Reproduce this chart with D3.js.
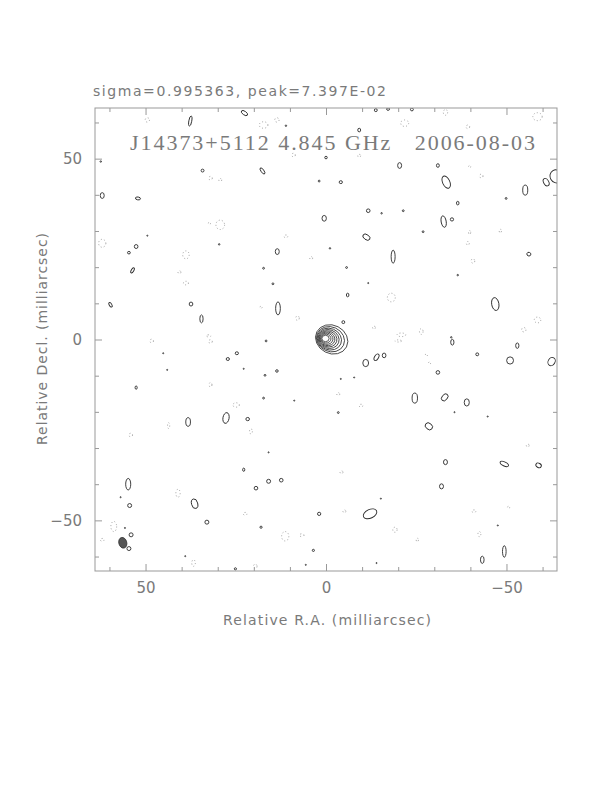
<!DOCTYPE html>
<html>
<head>
<meta charset="utf-8">
<script src="https://cdn.jsdelivr.net/npm/d3@7"></script>
<style>
  body { margin: 0; background: #fff; }
</style>
</head>
<body>
<div id="map"></div>
<script>
// header and labels
var titleText = "sigma=0.995363, peak=7.397E-02";
var mapLabel = "J14373+5112 4.845 GHz   2006-08-03";
var xTitle = "Relative R.A. (milliarcsec)";
var yTitle = "Relative Decl. (milliarcsec)";
var majorTicks = [50, 0, -50];
var minorTicks = [60, 40, 30, 20, 10, -10, -20, -30, -40, -60];

// central source contours: [ra, dec, rx, ry, angle] in mas
var coreLevels = [
    [0.14, 0.28, 1.0, 0.88, 0],
    [0.0, 0.25, 1.38, 1.22, 5],
    [-0.17, 0.22, 1.77, 1.55, 10],
    [-0.33, 0.19, 2.15, 1.88, 14],
    [-0.52, 0.17, 2.54, 2.21, 18],
    [-0.72, 0.14, 2.96, 2.57, 21],
    [-0.94, 0.11, 3.43, 2.96, 23],
    [-1.24, 0.08, 3.98, 3.40, 25],
    [-1.57, 0.03, 4.61, 3.92, 27]
];

// positive noise contours: [ra, dec, rx, ry, angle]
var posBlobs = [
    [37.6,60.4,.4,1.4,10],[22.6,62.6,1.0,.5,35],[-13.8,63.4,.4,.4,0],[-17.2,63.7,.4,.35,0],
    [-23.8,63.6,.4,.4,0],[-9.2,57.9,.4,.5,0],[0,50.3,.35,.35,0],[34.2,46.7,.4,.4,0],
    [17.6,46.6,1.0,.4,55],[1.9,43.8,.25,.25,0],[62.0,39.8,.55,.8,0],[52.1,39.0,.7,.4,10],
    [.5,33.5,.6,.8,0],[52.6,25.7,.5,.55,0],[54.6,24.0,.4,.35,0],[53.6,19.1,.35,.8,30],
    [17.3,19.7,.25,.25,0],[14.7,15.4,.25,.25,0],[13.5,24.3,.55,.8,0],[59.7,9.6,.35,.7,-30],
    [37.4,9.8,.5,.55,0],[13.3,8.6,.65,1.8,0],[34.5,5.7,.45,1.1,0],[-20.4,48.1,.55,.8,0],
    [-31.0,48.1,.4,.5,0],[-33.3,43.5,1.0,1.8,-25],[-4.1,43.5,.45,.4,0],[-63.8,45.1,1.7,1.85,-30],
    [-61.0,43.5,.7,1.1,-30],[-55.2,41.3,.7,1.4,0],[-49.9,39.0,.25,.25,0],[-36.5,37.7,.35,.5,0],
    [-11.7,35.6,.5,.5,0],[-15.4,34.9,.2,.2,0],[-21.4,35.6,.25,.25,0],[-32.6,32.6,.7,1.6,-10],
    [-34.9,33.2,.45,.45,0],[-26.9,29.8,.25,.25,0],[-11.2,28.3,1.1,.7,35],[-1.1,25.2,.2,.2,0],
    [-18.6,22.9,.55,1.8,0],[-56.2,23.6,.55,.5,20],[-5.7,19.9,.25,.25,0],[-36.5,17.8,.2,.2,0],
    [-11.7,15.6,.15,.15,0],[-6.0,12.3,.35,.5,0],[-46.9,9.8,1.0,1.8,-10],[-4.8,4.8,.4,.4,0],
    [-34.7,.6,.2,.2,0],[16.6,-.4,.25,.25,0],[24.7,-3.8,.45,.4,0],[27.2,-5.4,.45,.4,0],
    [13.6,-8.7,.35,.35,0],[16.9,-9.9,.25,.25,0],[52.6,-13.3,.3,.45,0],[17.3,-16.2,.25,.25,0],
    [27.7,-21.7,.85,1.5,10],[38.2,-22.8,.65,1.2,0],[21.7,-22.0,.5,.45,0],[22.8,-36.0,.3,.45,0],
    [54.8,-40.0,.7,1.6,0],[15.9,-39.2,.55,.55,0],[12.4,-38.9,.5,.5,0],[19.4,-41.1,.5,.5,0],
    [36.4,-45.4,.85,1.35,-15],[54.4,-45.9,.55,.55,0],[33.0,-50.5,.55,.55,0],[1.9,-48.2,.45,.45,0],
    [18.0,-51.9,.3,.3,0],[55.7,-52.1,.15,.15,0],[54.0,-54.0,.55,.55,0],[54.6,-57.8,.55,.55,0],
    [3.5,-58.3,.3,.3,0],[25.1,-63.4,.3,.3,0],[56.9,-43.6,.15,.15,0],[22.8,-8.1,.15,.15,0],
    [45.1,-3.8,.15,.15,0],[44.0,-8.4,.15,.15,0],[8.8,-16.9,.15,.15,0],[15.9,-31.2,.15,.15,0],
    [5.6,-62.3,.15,.15,0],[39,-59.9,.15,.15,0],[-35.0,-.75,.45,.8,0],[-53.0,-1.7,.45,.75,0],
    [-14.0,-4.9,.55,1.0,30],[-16.1,-4.4,.5,.65,0],[-11.0,-6.5,.8,1.0,0],[-41.9,-4.1,.4,.4,0],
    [-51.0,-5.8,.95,1.0,0],[-62.5,-6.1,.95,1.2,30],[-31.0,-9.1,.5,.5,0],[-4.1,-10.9,.15,.15,0],
    [-7.8,-10.5,.15,.15,0],[-24.6,-16.2,.75,1.4,0],[-32.9,-16.0,.75,1.1,40],[-39.0,-17.4,.7,1.0,0],
    [-3.4,-20.2,.25,.25,0],[-35.6,-20.1,.15,.15,0],[-44.8,-21.3,.15,.15,0],[-28.5,-24.0,1.1,.85,40],
    [-33.1,-33.9,.55,.7,0],[-49.4,-34.4,1.25,.55,25],[-58.9,-34.8,.8,.6,30],[-32.0,-40.6,.55,.7,0],
    [-15.2,-44.0,.15,.15,0],[-12.2,-48.2,2.0,1.2,-25],[-47.6,-51.4,.15,.15,0],[-49.4,-58.6,.5,1.6,0],
    [-43.3,-60.9,.5,1.0,0],[-14.0,-61.8,.15,.15,0],[62.4,49.2,.2,.2,0],[11.1,59.1,.2,.2,0],
    [49.5,28.7,.15,.15,0],[29.6,26.3,.2,.2,0]
];

// negative contours (dotted): [ra, dec, rx, ry]
var negBlobs = [
    [49.5,60.7,.6,.6],[17.3,59.3,1.2,.9],[13.6,60.7,.6,.6],[9.0,51.0,.5,.5],
    [32.0,44.6,.5,.5],[29.3,44.1,.4,.4],[29.3,31.7,1.2,1.3],[32.3,32.1,.3,.3],
    [62.0,26.6,1.0,1.1],[11.1,28.5,.5,.4],[38.8,23.4,.9,1.1],[4.1,22.5,.4,.4],
    [40.6,18.6,.4,.4],[38.8,15.6,.7,.5],[18.0,8.9,.3,.3],[7.9,5.9,.5,.6],
    [32.5,1.0,.6,.3],[-33.1,62.8,.6,.8],[-21.8,59.8,1.1,.9],[-39.3,58.8,.5,.5],
    [-58.6,61.6,1.3,1.1],[-9.2,50.8,.4,.4],[-39.8,47.8,.3,.3],[-43.0,45.2,.5,.5],
    [-39.8,29.6,.3,.5],[-39.3,26.6,.4,.5],[-40.7,21.7,.5,.6],[-48.3,30.0,.3,.5],
    [-18.1,11.6,1.1,1.2],[-58.6,5.4,.9,.8],[-13.3,3.3,.4,.4],[-26.4,2.2,.5,.8],
    [-54.8,2.7,.6,.6],[-20.9,1.3,1.2,.5],[48.3,-.4,.5,.5],[32.0,-.55,.5,.5],
    [32.0,-12.5,.4,.6],[24.9,-18.1,.9,.6],[43.6,-23.8,.3,.8],[20.8,-25.4,.4,.7],
    [54.1,-26.4,.5,.5],[41.0,-42.5,.6,1.1],[22.4,-48.2,.5,.4],[58.8,-51.7,.8,1.4],
    [11.3,-54.4,1.0,1.3],[6.7,-54.1,.6,.4],[62.0,-55.4,.5,.4],[36.7,-61.8,.5,.9],
    [19.6,-62.7,.5,.6],[-20.0,-.4,.9,.3],[-27.8,-4.3,.3,.3],[-28.7,-6.5,.3,.3],
    [-3.4,-15.1,.4,.4],[-9.7,-18.3,.5,.4],[-55.9,-29.3,.4,.4],[-4.3,-36.7,.4,.4],
    [-5.1,-47.5,.4,.4],[-41.0,-47.5,.5,.4],[-50.6,-46.4,.3,.3],[-19.1,-52.6,.6,.7],
    [-42.5,-53.8,.4,.7],[-25.3,-55.4,.3,.5]
];

// restoring beam: [ra, dec, rx, ry, angle]
var beam = [56.3, -56.2, 1.1, 1.5, -15];

var svgWidth = 612;
var svgHeight = 792;
var margin = { top: 108, left: 95 };
var width = 462;
var height = 463;

var svg = d3.select("#map")
    .append("svg")
    .attr("width", svgWidth)
    .attr("height", svgHeight);

var chartGroup = svg.append("g")
    .attr("transform", `translate(${margin.left}, ${margin.top})`);

// scales (R.A. increases to the left)
var xScale = d3.scaleLinear().domain([64, -64]).range([0, width]);
var yScale = d3.scaleLinear().domain([-64, 64]).range([height, 0]);
var k = Math.abs(xScale(1) - xScale(0));

svg.append("defs").append("clipPath")
    .attr("id", "frameClip")
    .append("rect")
    .attr("width", width)
    .attr("height", height);

var plotArea = chartGroup.append("g").attr("clip-path", "url(#frameClip)");

function drawBlobs(data, cls) {
    return plotArea.append("g")
        .selectAll("ellipse")
        .data(data)
        .enter()
        .append("ellipse")
        .attr("class", cls)
        .attr("cx", d => xScale(d[0]))
        .attr("cy", d => yScale(d[1]))
        .attr("rx", d => d[2] * k)
        .attr("ry", d => d[3] * k)
        .attr("transform", d => `rotate(${d[4] || 0}, ${xScale(d[0])}, ${yScale(d[1])})`);
}

drawBlobs(negBlobs, "neg")
    .attr("fill", "none")
    .attr("stroke", "#8a8a8a")
    .attr("stroke-width", 0.8)
    .attr("stroke-dasharray", "1,2.2");

drawBlobs(posBlobs, "pos")
    .attr("fill", "none")
    .attr("stroke", "#2a2a2a")
    .attr("stroke-width", 0.9);

drawBlobs(coreLevels, "core")
    .attr("fill", "none")
    .attr("stroke", "#333")
    .attr("stroke-width", 0.8);

drawBlobs([beam], "beam")
    .attr("fill", "#555")
    .attr("stroke", "#333")
    .attr("stroke-width", 0.8);

// axes: majors and minors on all four sides, ticks pointing in
var tickColor = "#999";
function addAxis(axis, tx, ty, labels) {
    var g = chartGroup.append("g")
        .attr("transform", `translate(${tx}, ${ty})`)
        .call(axis);
    g.select(".domain").remove();
    g.selectAll("line").attr("stroke", tickColor);
    g.selectAll("text")
        .attr("fill", "#7a7a7a")
        .style("font-family", "DejaVu Sans")
        .style("font-size", "15px");
    if (!labels) g.selectAll("text").remove();
    return g;
}

addAxis(d3.axisBottom(xScale).tickValues(majorTicks).tickSize(-7).tickPadding(11), 0, height, true);
addAxis(d3.axisBottom(xScale).tickValues(minorTicks).tickSize(-4), 0, height, false);
addAxis(d3.axisTop(xScale).tickValues(majorTicks).tickSize(-7), 0, 0, false);
addAxis(d3.axisTop(xScale).tickValues(minorTicks).tickSize(-4), 0, 0, false);
addAxis(d3.axisLeft(yScale).tickValues(majorTicks).tickSize(-7).tickPadding(13), 0, 0, true);
addAxis(d3.axisLeft(yScale).tickValues(minorTicks).tickSize(-4), 0, 0, false);
addAxis(d3.axisRight(yScale).tickValues(majorTicks).tickSize(-7), width, 0, false);
addAxis(d3.axisRight(yScale).tickValues(minorTicks).tickSize(-4), width, 0, false);

// frame
chartGroup.append("rect")
    .attr("width", width)
    .attr("height", height)
    .attr("fill", "none")
    .attr("stroke", tickColor)
    .attr("stroke-width", 1);

// texts
svg.append("text")
    .attr("x", 93)
    .attr("y", 96)
    .attr("textLength", 293)
    .attr("fill", "#7a7a7a")
    .style("font-family", "DejaVu Sans")
    .style("font-size", "14px")
    .text(titleText);

svg.append("text")
    .attr("x", 130)
    .attr("y", 150)
    .attr("textLength", 405)
    .attr("fill", "#7a7a7a")
    .style("white-space", "pre")
    .style("font-family", "Liberation Serif")
    .style("font-size", "22px")
    .text(mapLabel);

svg.append("text")
    .attr("x", margin.left + width / 2 + 1)
    .attr("y", 625)
    .attr("text-anchor", "middle")
    .attr("textLength", 208)
    .attr("fill", "#7a7a7a")
    .style("font-family", "DejaVu Sans")
    .style("font-size", "14px")
    .text(xTitle);

svg.append("text")
    .attr("transform", "rotate(-90)")
    .attr("x", -339)
    .attr("y", 47)
    .attr("text-anchor", "middle")
    .attr("textLength", 212)
    .attr("fill", "#7a7a7a")
    .style("font-family", "DejaVu Sans")
    .style("font-size", "14px")
    .text(yTitle);
</script>
</body>
</html>
